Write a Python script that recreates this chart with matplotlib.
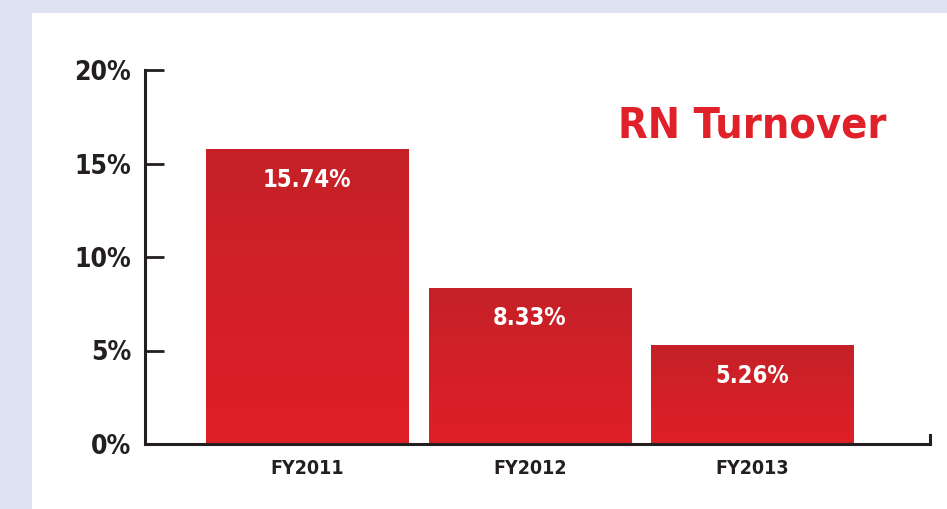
import numpy as np
import matplotlib
matplotlib.use("Agg")
import matplotlib.pyplot as plt
from matplotlib import font_manager
from matplotlib.patches import Rectangle
from matplotlib.colors import LinearSegmentedColormap

categories = ["FY2011", "FY2012", "FY2013"]
values = [15.74, 8.33, 5.26]
value_labels = ["15.74%", "8.33%", "5.26%"]
yticks = [0, 5, 10, 15, 20]
ytick_labels = ["0%", "5%", "10%", "15%", "20%"]
title = "RN Turnover"

names = {f.name for f in font_manager.fontManager.ttflist}
if "Liberation Sans Narrow" in names:
    FONT = "Liberation Sans Narrow"
    STRETCH = "normal"
else:
    FONT = "DejaVu Sans"
    STRETCH = "condensed"

W, H = 947, 509
fig = plt.figure(figsize=(W / 100, H / 100), dpi=100)
fig.patch.set_facecolor("#dfe2f1")
fig.patches.append(Rectangle((32 / W, 0), 1 - 32 / W, 1 - 13 / H, transform=fig.transFigure,
                             facecolor="white", edgecolor="none", zorder=-10))

ax = fig.add_axes([145 / W, 65 / H, (930 - 145) / W, (444 - 70) / H])
ax.set_facecolor("none")
ax.set_zorder(5)

dark = "#231f20"
cmap = LinearSegmentedColormap.from_list("g", ["#e01f27", "#c52128"])
grad = np.linspace(0, 1, 256).reshape(-1, 1)
x = np.arange(len(categories))
bw = 0.908
for xi, v, lab in zip(x, values, value_labels):
    ax.imshow(grad, cmap=cmap, origin="lower", aspect="auto",
              extent=(xi - bw / 2, xi + bw / 2, 0, v), zorder=2)
    ax.text(xi, v - 1.6, lab, ha="center", va="center", color="white",
            fontsize=17, fontweight="bold", family=FONT, fontstretch=STRETCH, zorder=3)
ax.set_xlim(-0.728, 2.798)
ax.set_ylim(0, 20)

for s in ["top", "right"]:
    ax.spines[s].set_visible(False)
ax.spines["left"].set_color(dark)
ax.spines["bottom"].set_color(dark)
ax.spines["left"].set_linewidth(2.2)
ax.spines["bottom"].set_linewidth(2.2)

ax.set_yticks(yticks)
ax.set_yticklabels(ytick_labels)
ax.tick_params(axis="y", direction="in", length=14, width=2, color=dark, pad=10)
ax.set_xticks(x)
ax.set_xticklabels(categories)
ax.tick_params(axis="x", length=0, pad=11)
for t in ax.get_yticklabels():
    t.set_fontsize(19); t.set_fontweight("bold"); t.set_family(FONT); t.set_fontstretch(STRETCH); t.set_color(dark)
for t in ax.get_xticklabels():
    t.set_fontsize(14); t.set_fontweight("bold"); t.set_family(FONT); t.set_fontstretch(STRETCH); t.set_color(dark)

# end tick at right of x-axis
ax.plot([1, 1], [0, 0.025], transform=ax.transAxes, color=dark, lw=2.2, clip_on=False, zorder=4)

fig.text(752 / W, 1 - 125 / H, title, ha="center", va="center", color="#e0212a",
         fontsize=31, fontweight="bold", family=FONT, fontstretch=STRETCH, zorder=10)

fig.savefig("out.png", dpi=100)
